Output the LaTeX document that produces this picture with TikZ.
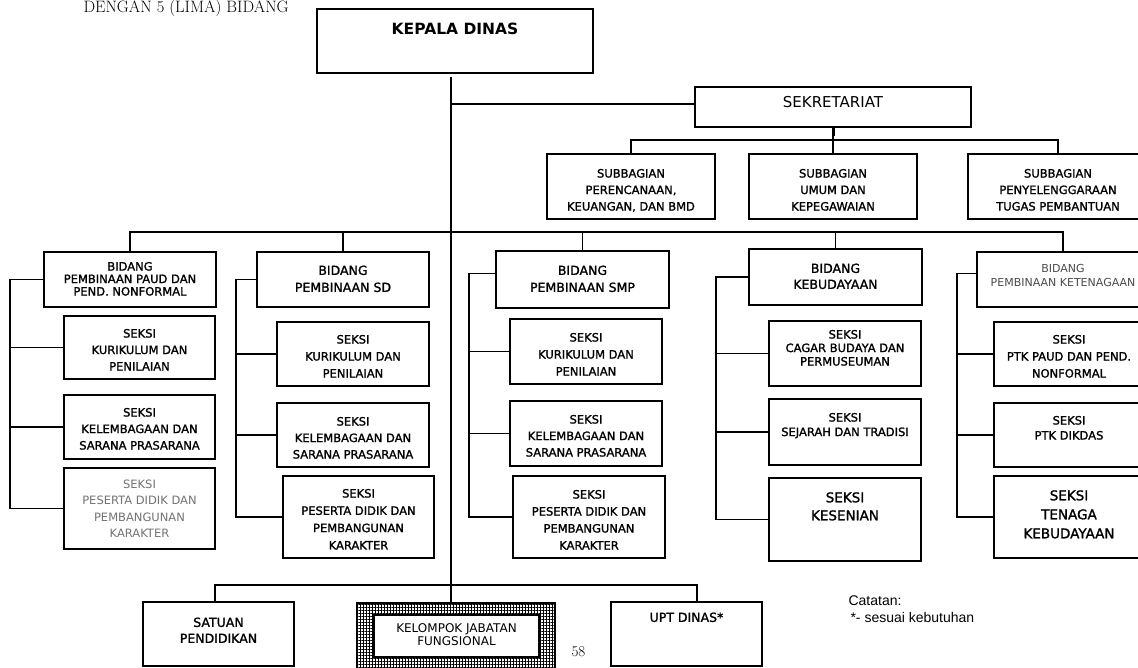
\documentclass[tikz,border=0pt]{standalone}
\usepackage{fontspec}
\newfontfamily\dv{DejaVu Sans}
\newfontfamily\dvb{DejaVu Sans}[FakeBold=1.4]
\newfontfamily\arl{Liberation Sans}
\usetikzlibrary{patterns.meta,calc}
\newcommand{\setfs}[2]{\fontsize{#1}{#2}\selectfont}
\tikzset{
  orgbox/.style={draw=black, line width=1.5pt, rectangle, inner sep=0pt, outer sep=0pt},
  orgtxt/.style={align=center, inner sep=0pt, anchor=north},
  link/.style={draw=black, line width=1.5pt, line cap=rect},
}
% name, x1, y1, x2, y2, text-north-y, font, text
\newcommand{\bx}[8]{%
  \node[orgbox, anchor=north west, minimum width={(#4-#2)*1pt}, minimum height={(#5-#3)*1pt}] (#1) at (#2,#3) {};
  \node[orgtxt, font={\dvb #7}] (#1t) at ({(#2+#4)/2},#6) {#8};
}
\begin{document}
\begin{tikzpicture}[x=1pt,y=-1pt]
\useasboundingbox (0,0) rectangle (1138,667);
\fill[white] (0,0) rectangle (1138,667);

\node[anchor=base west, font=\rmfamily\setfs{16.5}{18}] (hdr) at (80,12.5) {DENGAN 5 (LIMA) BIDANG};

% top
\bx{kepala}{317}{9}{593}{73}{22.4}{\dv\bfseries\setfs{15.5}{18}}{KEPALA DINAS}
\bx{sek}{695}{87}{971}{127}{96.5}{\dv\setfs{15}{18}}{SEKRETARIAT}
\bx{sb1}{547}{154}{715}{219}{168.8}{\setfs{11.5}{16.5}}{SUBBAGIAN\\PERENCANAAN,\\KEUANGAN, DAN BMD}
\bx{sb2}{749}{154}{917}{219}{168.8}{\setfs{11.5}{16.5}}{SUBBAGIAN\\UMUM DAN\\KEPEGAWAIAN}
\bx{sb3}{968}{154}{1148}{219}{168.8}{\setfs{11.5}{16.5}}{SUBBAGIAN\\PENYELENGGARAAN\\TUGAS PEMBANTUAN}

% bidang
\bx{bp}{44}{252}{216}{307}{261.8}{\setfs{11.5}{12.5}}{BIDANG\\PEMBINAAN PAUD DAN\\PEND. NONFORMAL}
\bx{bd}{257}{252}{429}{307}{265.4}{\setfs{12.5}{17}}{BIDANG\\PEMBINAAN SD}
\bx{bm}{496}{251}{669}{308}{265.4}{\setfs{12.5}{17}}{BIDANG\\PEMBINAAN SMP}
\bx{bk}{749}{249}{922}{305}{263.4}{\setfs{12.5}{16}}{BIDANG\\KEBUDAYAAN}
\bx{bt}{977}{252}{1149}{307}{264}{\dv\color{black!70}\setfs{11}{14}}{BIDANG\\PEMBINAAN KETENAGAAN}

% seksi PAUD
\bx{ps1}{64}{316}{215}{379}{328.8}{\setfs{11.5}{16.5}}{SEKSI\\KURIKULUM DAN\\PENILAIAN}
\bx{ps2}{64}{395}{215}{459}{407.8}{\setfs{11.5}{16.5}}{SEKSI\\KELEMBAGAAN DAN\\SARANA PRASARANA}
\bx{ps3}{64}{468}{215}{549}{479.8}{\dv\color{black!55}\setfs{11.5}{16.3}}{SEKSI\\PESERTA DIDIK DAN\\PEMBANGUNAN\\KARAKTER}
% seksi SD
\bx{ds1}{277}{322}{429}{386}{334.8}{\setfs{11.5}{17}}{SEKSI\\KURIKULUM DAN\\PENILAIAN}
\bx{ds2}{277}{403}{429}{467}{416.8}{\setfs{11.5}{16.5}}{SEKSI\\KELEMBAGAAN DAN\\SARANA PRASARANA}
\bx{ds3}{283}{476}{434}{558}{488.8}{\setfs{11.5}{17.3}}{SEKSI\\PESERTA DIDIK DAN\\PEMBANGUNAN\\KARAKTER}
% seksi SMP
\bx{ms1}{510}{319}{662}{384}{332.8}{\setfs{11.5}{17}}{SEKSI\\KURIKULUM DAN\\PENILAIAN}
\bx{ms2}{510}{401}{662}{466}{414.8}{\setfs{11.5}{16.5}}{SEKSI\\KELEMBAGAAN DAN\\SARANA PRASARANA}
\bx{ms3}{513}{476}{665}{558}{489.8}{\setfs{11.5}{17}}{SEKSI\\PESERTA DIDIK DAN\\PEMBANGUNAN\\KARAKTER}
% seksi Kebudayaan
\bx{ks1}{769}{321}{921}{386}{329.8}{\setfs{11.5}{13.5}}{SEKSI\\CAGAR BUDAYA DAN\\PERMUSEUMAN}
\bx{ks2}{769}{399}{921}{465}{412.8}{\setfs{11.5}{14.5}}{SEKSI\\SEJARAH DAN TRADISI}
\bx{ks3}{769}{478}{921}{561}{492.1}{\setfs{13.5}{18}}{SEKSI\\KESENIAN}
% seksi Ketenagaan
\bx{ts1}{994}{322}{1144}{386}{334.8}{\setfs{11.5}{17}}{SEKSI\\PTK PAUD DAN PEND.\\NONFORMAL}
\bx{ts2}{994}{403}{1144}{467}{415.8}{\setfs{11.5}{15}}{SEKSI\\PTK DIKDAS}
\bx{ts3}{994}{476}{1144}{558}{490.1}{\setfs{13.5}{19}}{SEKSI\\TENAGA\\KEBUDAYAAN}

% bottom row
\bx{sat}{143}{602}{294}{666}{617.4}{\setfs{12.5}{16}}{SATUAN\\PENDIDIKAN}
\bx{upt}{611}{602}{762}{666}{612.4}{\setfs{12.5}{16}}{UPT DINAS*}
\node[orgbox, anchor=north west, minimum width=198pt, minimum height=69pt] (kel) at (357,603) {};
\node[orgbox, anchor=north west, minimum width=165pt, minimum height=42pt] (kelin) at (374,615) {};
\fill[pattern={Lines[angle=0,distance=3pt,line width=0.8pt]}, even odd rule]
  (kel.north west) rectangle (kel.south east) (kelin.north west) rectangle (kelin.south east);
\fill[pattern={Lines[angle=90,distance=3pt,line width=0.8pt]}, even odd rule]
  (kel.north west) rectangle (kel.south east) (kelin.north west) rectangle (kelin.south east);
\node[orgtxt, font={\dv\setfs{12}{12.5}}] (kelt) at (456.5,623.5) {KELOMPOK JABATAN\\FUNGSIONAL};

\node[anchor=base west, font=\rmfamily\setfs{15}{17}] (pg) at (568,656) {58};
\node[anchor=base west, font=\arl\setfs{14}{16}] (cat1) at (845,605) {Catatan:};
\node[anchor=base west, font=\arl\setfs{14}{16}] (cat2) at (847,622) {*- sesuai kebutuhan};

% connectors
\coordinate (mtop) at (451,78);
\draw[link] (mtop) -- (mtop |- kel.north);
\coordinate (sekin) at ([yshift=3pt]sek.west);
\draw[link] (mtop |- sekin) -- (sekin);

\coordinate (sbar) at (833,140);
\draw[link] (sek.south) -- (sbar);
\draw[line width=3pt] (sek.south) -- ++(0,9);
\draw[link] (sb1.north |- sbar) -- (sb3.north |- sbar);
\foreach \n in {sb1,sb2,sb3} \draw[link] (\n.north |- sbar) -- (\n.north);

\coordinate (bbar) at (451,232);
\draw[link] (bp.north |- bbar) -- (bt.north |- bbar);
\foreach \n in {bp,bd,bm,bk,bt} \draw[link] (\n.north |- bbar) -- (\n.north);

% brackets
\coordinate (pbx) at (10,0);
\draw[link] (bp.west) -- (bp.west -| pbx) -- (ps3.west -| pbx) -- (ps3.west);
\draw[link] (ps1.west -| pbx) -- (ps1.west);
\draw[link] (ps2.west -| pbx) -- (ps2.west);

\coordinate (dbx) at (236,0);
\draw[link] (bd.west) -- (bd.west -| dbx) -- (ds3.west -| dbx) -- (ds3.west);
\draw[link] (ds1.west -| dbx) -- (ds1.west);
\draw[link] (ds2.west -| dbx) -- (ds2.west);

\coordinate (mbx) at (469,0);
\coordinate (bmin) at ([yshift=6pt]bm.west);
\draw[link] (bmin) -- (bmin -| mbx) -- (ms3.west -| mbx) -- (ms3.west);
\draw[link] (ms1.west -| mbx) -- (ms1.west);
\draw[link] (ms2.west -| mbx) -- (ms2.west);

\coordinate (kbx) at (716,0);
\draw[link] (bk.west) -- (bk.west -| kbx) -- (ks3.west -| kbx) -- (ks3.west);
\draw[link] (ks1.west -| kbx) -- (ks1.west);
\draw[link] (ks2.west -| kbx) -- (ks2.west);

\coordinate (tbx) at (957,0);
\coordinate (btin) at ([yshift=6pt]bt.west);
\draw[link] (btin) -- (btin -| tbx) -- (ts3.west -| tbx) -- (ts3.west);
\draw[link] (ts1.west -| tbx) -- (ts1.west);
\draw[link] (ts2.west -| tbx) -- (ts2.west);

% bottom bar
\coordinate (lb) at (215,585);
\coordinate (rb) at (697,585);
\draw[link] (lb) -- (rb);
\draw[link] (lb) -- (lb |- sat.north);
\draw[link] (rb) -- (rb |- upt.north);
\end{tikzpicture}
\end{document}
